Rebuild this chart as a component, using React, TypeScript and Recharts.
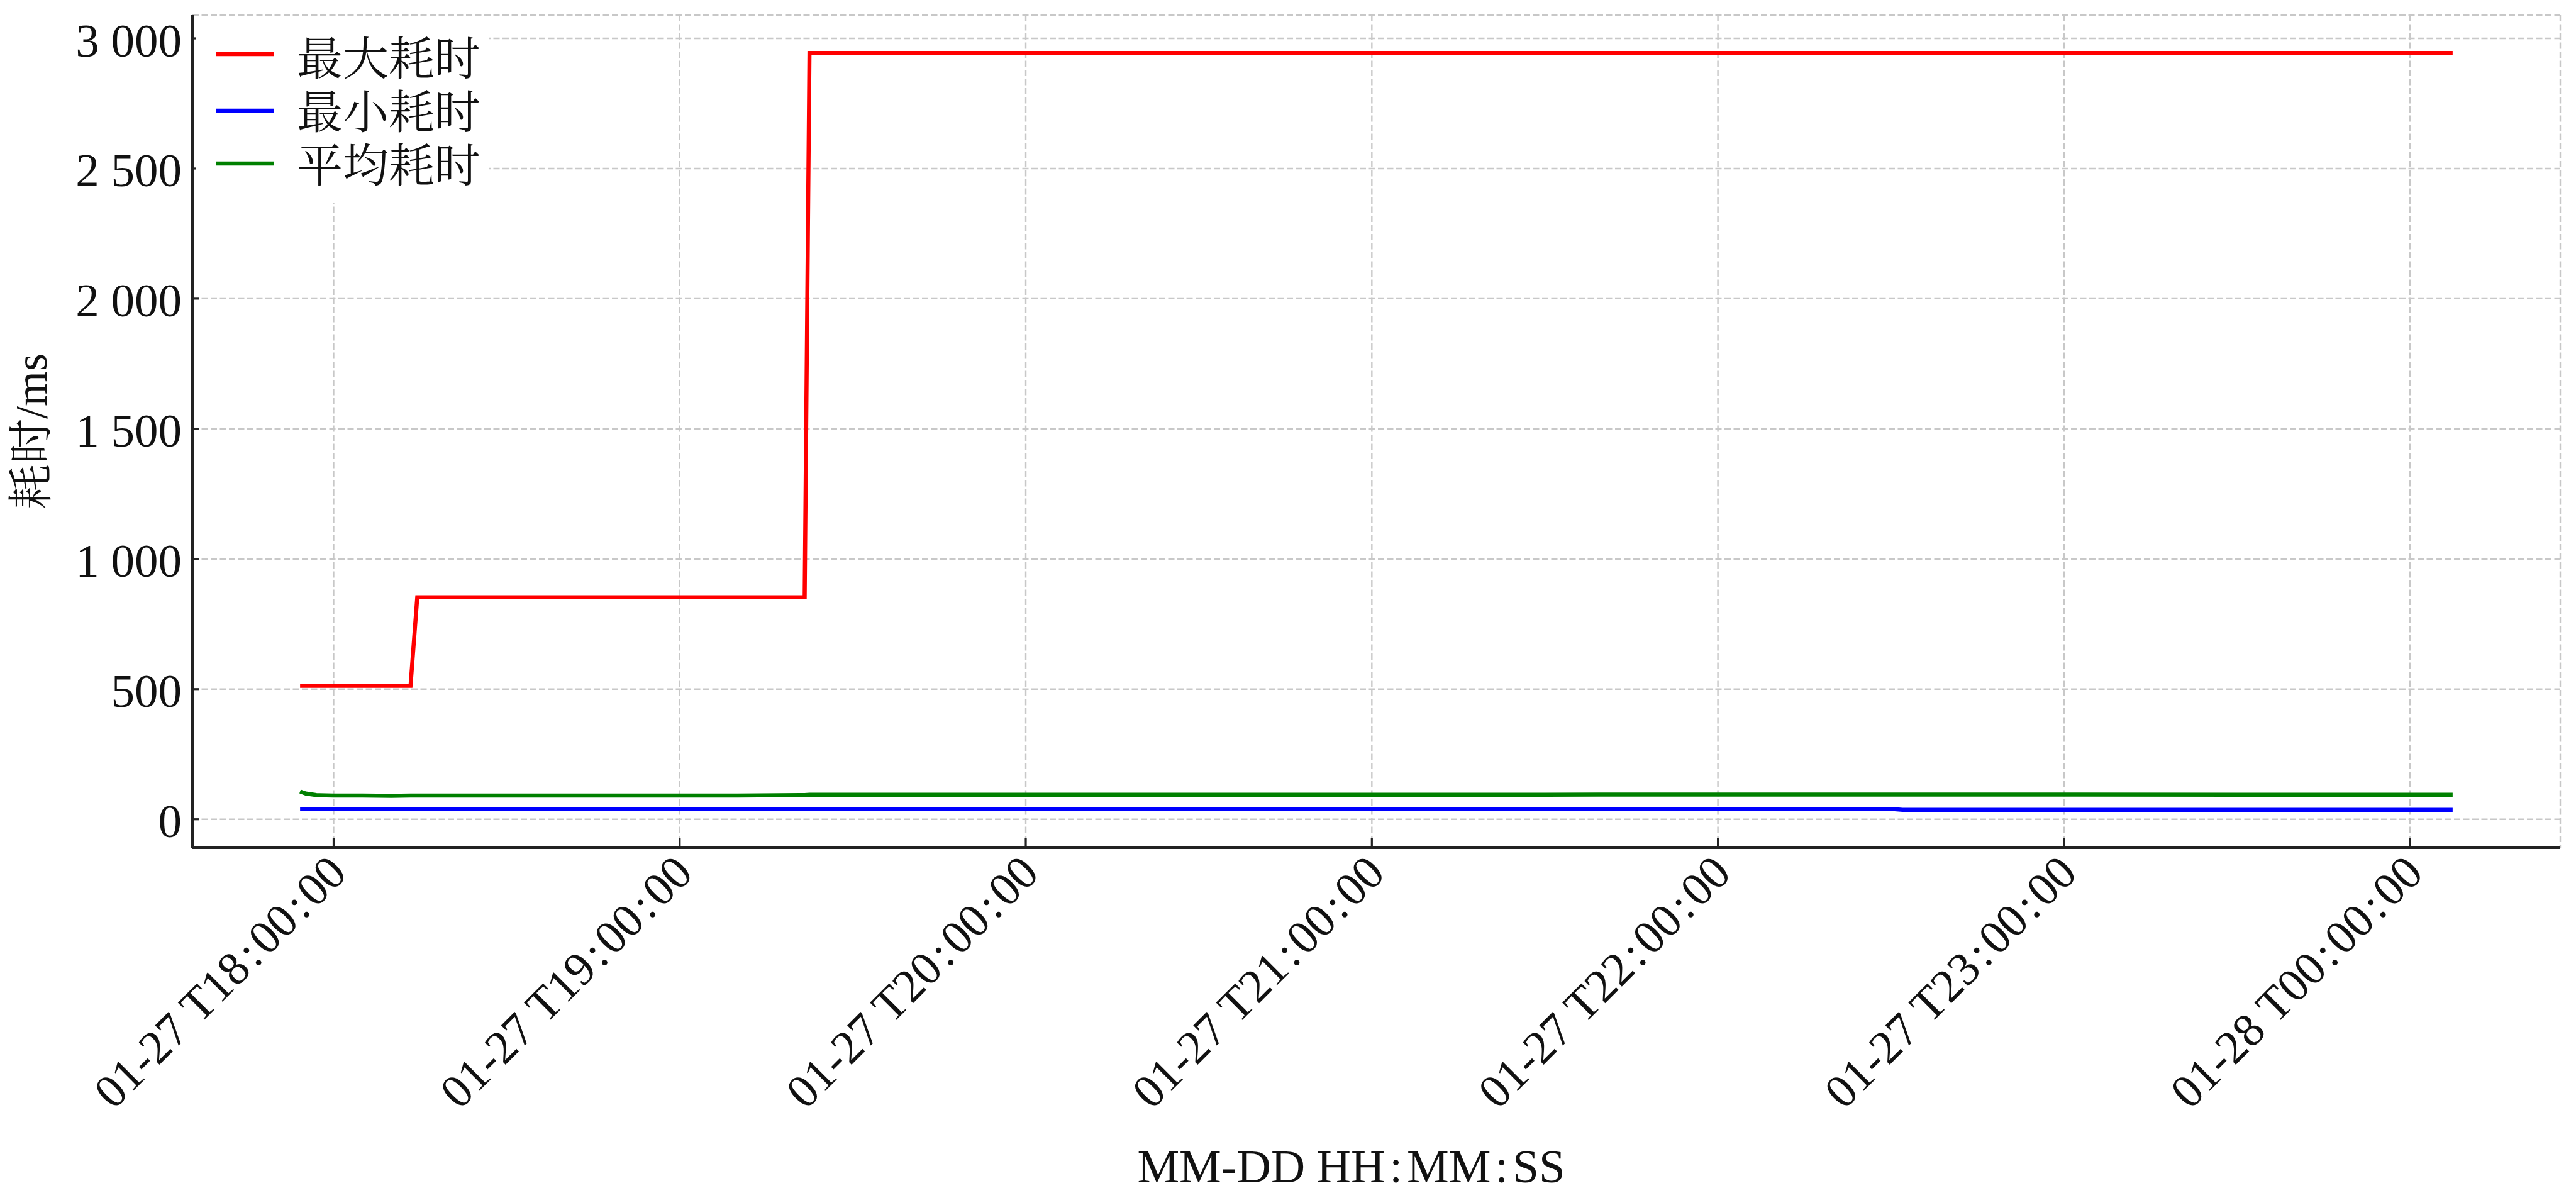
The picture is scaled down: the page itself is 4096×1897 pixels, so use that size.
import React from 'react';
import { LineChart, Line, XAxis, YAxis, CartesianGrid, Legend } from 'recharts';

// ---- data ----
const timestamps = [
  '01-27 17:54:11', '01-27 17:55:10', '01-27 17:57:00', '01-27 18:00:00', '01-27 18:05:00',
  '01-27 18:10:00', '01-27 18:13:20', '01-27 18:14:30', '01-27 18:30:00', '01-27 18:45:00',
  '01-27 19:00:00', '01-27 19:10:00', '01-27 19:21:40', '01-27 19:22:30', '01-27 19:40:00',
  '01-27 20:00:00', '01-27 20:30:00', '01-27 21:00:00', '01-27 21:30:00', '01-27 21:40:00',
  '01-27 22:00:00', '01-27 22:30:00', '01-27 22:32:00', '01-27 23:00:00', '01-27 23:30:00',
  '01-28 00:00:00', '01-28 00:07:23',
];
const maxCost = [
  513, 513, 513, 513, 513, 513, 513, 853, 853, 853,
  853, 853, 853, 2944, 2944, 2944, 2944, 2944, 2944, 2944,
  2944, 2944, 2944, 2944, 2944, 2944, 2944,
];
const minCost = [
  40, 40, 40, 40, 40, 40, 40, 40, 40, 40,
  40, 40, 40, 40, 40, 40, 40, 40, 40, 40,
  40, 40, 36, 36, 36, 36, 36,
];
const avgCost = [
  107, 99, 93, 91, 91, 90, 91, 91, 91, 91,
  91, 91, 93, 94, 94, 94, 94, 94, 94, 95,
  95, 95, 95, 95, 94, 94, 94,
];
const seriesNames = ['最大耗时', '最小耗时', '平均耗时'];
const seriesColors = ['#ff0000', '#0000ff', '#008000'];
const xTickTimes = [
  '01-27 18:00:00', '01-27 19:00:00', '01-27 20:00:00', '01-27 21:00:00',
  '01-27 22:00:00', '01-27 23:00:00', '01-28 00:00:00',
];
const xTickLabels = [
  '01-27 T18:00:00', '01-27 T19:00:00', '01-27 T20:00:00', '01-27 T21:00:00',
  '01-27 T22:00:00', '01-27 T23:00:00', '01-28 T00:00:00',
];
const yTicks = [0, 500, 1000, 1500, 2000, 2500, 3000];
const xAxisTitle = 'MM-DD HH:MM:SS';
const yAxisTitle = '耗时/ms';

// ---- helpers ----
const toMinutes = (s: string) => {
  const day = parseInt(s.slice(3, 5), 10) - 27;
  const [h, m, sec] = s.slice(6).split(':').map((v) => parseInt(v, 10));
  return day * 1440 + h * 60 + m + sec / 60;
};

const data = timestamps.map((ts, i) => ({
  t: toMinutes(ts),
  max: maxCost[i],
  min: minCost[i],
  avg: avgCost[i],
}));

const pad = (lo: number, hi: number): [number, number] => {
  const r = hi - lo;
  return [lo - 0.05 * r, hi + 0.05 * r];
};
const xs = data.map((d) => d.t);
const xDomain = pad(Math.min(...xs), Math.max(...xs));
const allY = [...maxCost, ...minCost, ...avgCost];
const yDomain = pad(Math.min(...allY), Math.max(...allY));
const xTicks = xTickTimes.map(toMinutes);

const FONT = "'Liberation Serif', 'Times New Roman', 'Noto Serif CJK SC', 'Noto Sans CJK SC', serif";
const TEXT = '#111111';
const AXIS = '#222222';

const fmtY = (v: number) => {
  const s = String(Math.round(v));
  return s.replace(/\B(?=(\d{3})+(?!\d))/g, ' ');
};

// colon rendered with a little extra spacing around it, as in the reference
const spacedColons = (s: string, gap: number) => {
  const parts = s.split(':');
  const out: React.ReactNode[] = [];
  parts.forEach((p, i) => {
    if (i > 0) {
      out.push(<tspan key={`c${i}`} dx={gap}>:</tspan>);
      out.push(<tspan key={`p${i}`} dx={gap}>{p}</tspan>);
    } else {
      out.push(<tspan key={`p${i}`}>{p}</tspan>);
    }
  });
  return out;
};

const XTick = (props: any) => {
  const { x, y, payload } = props;
  const idx = xTicks.findIndex((t) => Math.abs(t - payload.value) < 1e-6);
  const label = idx >= 0 ? xTickLabels[idx] : '';
  const px = x + 24;
  const py = y + 44;
  return (
    <g>
      <line x1={x} y1={y} x2={x} y2={y - 16} stroke={AXIS} strokeWidth={3.2} />
      <text
        x={px}
        y={py}
        transform={`rotate(-45, ${px}, ${py})`}
        textAnchor="end"
        fontSize={75}
        fontFamily={FONT}
        fill={TEXT}
      >
        {spacedColons(label, 6)}
      </text>
    </g>
  );
};

const YTick = (props: any) => {
  const { x, y, payload } = props;
  return (
    <g>
      <line x1={x} y1={y} x2={x + 10} y2={y} stroke={AXIS} strokeWidth={3.2} />
      <text
        x={x - 17}
        y={y + 3}
        textAnchor="end"
        dominantBaseline="central"
        fontSize={75}
        fontFamily={FONT}
        fill={TEXT}
      >
        {fmtY(payload.value)}
      </text>
    </g>
  );
};

const XTitle = (props: any) => {
  const vb = props.viewBox || {};
  const cx = vb.x + vb.width / 2 - 40;
  return (
    <text x={cx} y={vb.y + 532} textAnchor="middle" fontSize={75} fontFamily={FONT} fill={TEXT}>
      {spacedColons(xAxisTitle, 7)}
    </text>
  );
};

const YTitle = (props: any) => {
  const vb = props.viewBox || {};
  const cy = vb.y + vb.height / 2;
  const cx = 50;
  return (
    <text
      x={cx}
      y={cy}
      transform={`rotate(-90, ${cx}, ${cy})`}
      textAnchor="middle"
      dominantBaseline="central"
      fontSize={72}
      fontFamily={FONT}
      fill={TEXT}
    >
      {yAxisTitle}
    </text>
  );
};

const LegendContent = (props: any) => {
  const payload = [...(props.payload || [])].sort(
    (a: any, b: any) => seriesNames.indexOf(a.value) - seriesNames.indexOf(b.value)
  );
  const rowsText = [69, 154, 239];
  const rowsLine = [61, 151, 235];
  return (
    <svg width={466} height={298} style={{ display: 'block' }}>
      {payload.map((item: any, i: number) => (
        <g key={item.value}>
          <line x1={32} x2={124} y1={rowsLine[i]} y2={rowsLine[i]} stroke={item.color} strokeWidth={6.5} />
          <text
            x={160}
            y={rowsText[i]}
            dominantBaseline="central"
            fontSize={73}
            fontFamily={FONT}
            fill={TEXT}
          >
            {item.value}
          </text>
        </g>
      ))}
    </svg>
  );
};

export default function App() {
  return (
    <div style={{ position: 'absolute', left: 0, top: 0, width: 4096, height: 1897, background: '#ffffff' }}>
      <LineChart
        width={4096}
        height={1897}
        data={data}
        margin={{ top: 24, right: 25, bottom: 449, left: 206 }}
      >
        <CartesianGrid stroke="#c8c8c8" strokeDasharray="10 4.5" strokeWidth={2.4} />
        <XAxis
          dataKey="t"
          type="number"
          domain={xDomain}
          ticks={xTicks}
          allowDataOverflow
          height={100}
          tickSize={0}
          tickMargin={0}
          tickLine={false}
          axisLine={{ stroke: AXIS, strokeWidth: 4 }}
          tick={<XTick />}
          interval={0}
          label={<XTitle />}
        />
        <YAxis
          type="number"
          domain={yDomain}
          ticks={yTicks}
          allowDataOverflow
          width={100}
          tickSize={0}
          tickMargin={0}
          tickLine={false}
          axisLine={{ stroke: AXIS, strokeWidth: 4 }}
          tick={<YTick />}
          interval={0}
          label={<YTitle />}
        />
        <Legend
          layout="vertical"
          align="center"
          verticalAlign="middle"
          itemSorter={null as any}
          content={<LegendContent />}
          wrapperStyle={{ left: 312, top: 25, width: 466, height: 298, background: '#ffffff' }}
        />
        <Line type="linear" dataKey="max" name={seriesNames[0]} stroke={seriesColors[0]} strokeWidth={6.5} dot={false} isAnimationActive={false} />
        <Line type="linear" dataKey="min" name={seriesNames[1]} stroke={seriesColors[1]} strokeWidth={6.5} dot={false} isAnimationActive={false} />
        <Line type="linear" dataKey="avg" name={seriesNames[2]} stroke={seriesColors[2]} strokeWidth={6.5} dot={false} isAnimationActive={false} />
      </LineChart>
    </div>
  );
}
